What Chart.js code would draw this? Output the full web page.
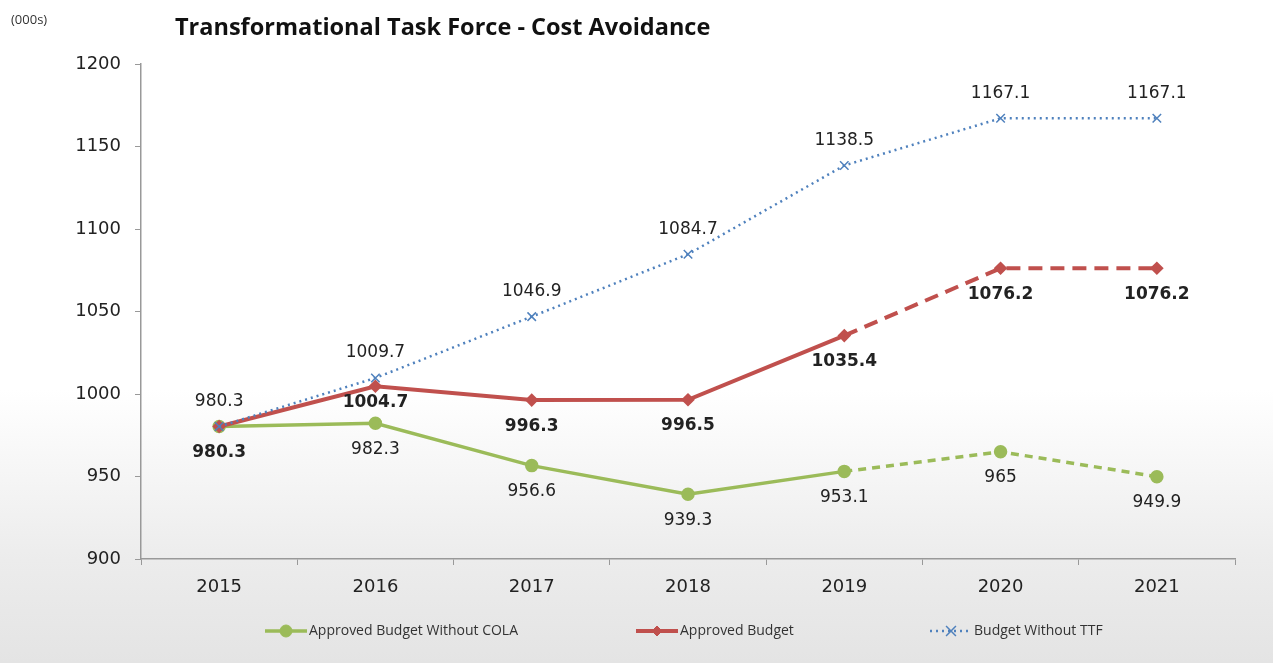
<!DOCTYPE html>
<html>
<head>
<meta charset="utf-8">
<script src="https://cdn.jsdelivr.net/npm/chart.js@4.4.1/dist/chart.umd.min.js"></script>
<style>
  html, body { margin: 0; padding: 0; }
  body {
    width: 1273px; height: 663px; overflow: hidden;
    background: linear-gradient(to bottom, #ffffff 0px, #ffffff 390px, #ececec 560px, #e4e4e4 663px);
  }
  #wrap { position: relative; width: 1273px; height: 663px; }
</style>
</head>
<body>
<div id="wrap"><canvas id="lineChart"></canvas></div>
<script>
// years and series values (thousands)
const years = ['2015', '2016', '2017', '2018', '2019', '2020', '2021'];
const withoutCola = [980.3, 982.3, 956.6, 939.3, 953.1, 965, 949.9];
const approved = [980.3, 1004.7, 996.3, 996.5, 1035.4, 1076.2, 1076.2];
const withoutTtf = [980.3, 1009.7, 1046.9, 1084.7, 1138.5, 1167.1, 1167.1];
const yTicks = [900, 950, 1000, 1050, 1100, 1150, 1200];

const GREEN = '#9bbb59';
const RED = '#c0504d';
const BLUE = '#4f81bd';
const LABEL_FONT = '17px "DejaVu Sans"';

// projected years (2019 onwards) are drawn dashed
const dashAfter = (idx, dash) => ctx => ctx.p0DataIndex >= idx ? dash : undefined;

// value labels next to each point
const pointLabels = {
  id: 'pointLabels',
  afterDatasetsDraw(chart) {
    const c = chart.ctx;
    c.save();
    c.textAlign = 'center';
    c.textBaseline = 'middle';
    c.fillStyle = '#222';
    chart.data.datasets.forEach((ds, i) => {
      const meta = chart.getDatasetMeta(i);
      meta.data.forEach((pt, j) => {
        if (ds.labelSkip && ds.labelSkip.includes(j)) return;
        let dy = ds.labelPos === 'above' ? -25 : 26;
        if (i === 1 && j === 1) dy = 16;
        c.font = ds.labelBold ? 'bold ' + LABEL_FONT : LABEL_FONT;
        c.fillText(String(ds.data[j]), pt.x, pt.y + dy);
      });
    });
    c.restore();
  }
};

// title, unit note and legend drawn on top
const extras = {
  id: 'extras',
  afterDraw(chart) {
    const c = chart.ctx;
    c.save();
    c.fillStyle = '#333';
    c.font = '13px "Open Sans"';
    c.textBaseline = 'middle';
    c.textAlign = 'left';
    c.fillText('(000s)', 11, 20);
    c.fillStyle = '#111';
    c.font = 'bold 23.5px "Open Sans"';
    c.fillText('Transformational Task Force - Cost Avoidance', 175, 28);

    const items = [
      { ds: 0, x: 265 },
      { ds: 1, x: 636 },
      { ds: 2, x: 930 }
    ];
    const y = 631;
    items.forEach(it => {
      const ds = chart.data.datasets[it.ds];
      c.strokeStyle = ds.borderColor;
      c.lineWidth = ds.borderWidth;
      c.setLineDash(ds.legendDash || []);
      c.beginPath();
      c.moveTo(it.x, y);
      c.lineTo(it.x + 42, y);
      c.stroke();
      c.setLineDash([]);
      c.fillStyle = ds.pointBackgroundColor;
      c.strokeStyle = ds.pointBorderColor;
      c.lineWidth = ds.pointStyle === 'crossRot' ? 1.5 : 1;
      Chart.helpers.drawPoint(c, {
        pointStyle: ds.pointStyle,
        radius: ds.pointRadius + 1,
        borderWidth: c.lineWidth
      }, it.x + 21, y);
      c.fillStyle = '#333';
      c.font = '14px "Open Sans"';
      c.textAlign = 'left';
      c.fillText(ds.label, it.x + 44, y);
    });
    c.restore();
  }
};

const data = {
  labels: years,
  datasets: [
    {
      label: 'Approved Budget Without COLA',
      data: withoutCola,
      borderColor: GREEN,
      backgroundColor: GREEN,
      pointBackgroundColor: GREEN,
      pointBorderColor: GREEN,
      borderWidth: 3.5,
      pointStyle: 'circle',
      pointRadius: 5,
      segment: { borderDash: dashAfter(4, [8, 6]) },
      labelPos: 'below',
      labelSkip: [0],
      order: 3
    },
    {
      label: 'Approved Budget',
      data: approved,
      borderColor: RED,
      backgroundColor: RED,
      pointBackgroundColor: RED,
      pointBorderColor: RED,
      borderWidth: 4,
      pointStyle: 'rectRot',
      pointRadius: 4,
      segment: { borderDash: dashAfter(4, [14, 8]) },
      labelPos: 'below',
      labelBold: true,
      order: 2
    },
    {
      label: 'Budget Without TTF',
      data: withoutTtf,
      borderColor: BLUE,
      backgroundColor: BLUE,
      pointBackgroundColor: 'rgba(0,0,0,0)',
      pointBorderColor: BLUE,
      borderWidth: 2.5,
      borderDash: [2, 4],
      legendDash: [2, 4],
      pointStyle: 'crossRot',
      pointRadius: 6,
      pointBorderWidth: 1.5,
      labelPos: 'above',
      order: 1
    }
  ]
};

function createLineChart() {
  const ctx = document.getElementById('lineChart').getContext('2d');
  return new Chart(ctx, {
    type: 'line',
    data: data,
    options: {
      responsive: true,
      maintainAspectRatio: false,
      animation: false,
      layout: { padding: { left: 0, right: 38, top: 64, bottom: 0 } },
      plugins: {
        legend: { display: false },
        tooltip: { enabled: false }
      },
      scales: {
        x: {
          offset: true,
          grid: { offset: true, drawOnChartArea: false, tickLength: 6, color: '#999' },
          border: { color: '#999', width: 1.5 },
          ticks: { color: '#222', font: { family: 'DejaVu Sans', size: 18 }, padding: 12 },
          afterFit(scale) { scale.height = 104; }
        },
        y: {
          min: 900,
          max: 1200,
          afterBuildTicks(scale) { scale.ticks = yTicks.map(v => ({ value: v })); },
          grid: { drawOnChartArea: false, tickLength: 6, color: '#999' },
          border: { color: '#999', width: 1.5 },
          ticks: {
            color: '#222',
            font: { family: 'DejaVu Sans', size: 18 },
            padding: 14,
            callback: v => String(v)
          },
          afterFit(scale) { scale.width = 141; }
        }
      }
    },
    plugins: [pointLabels, extras]
  });
}

createLineChart();
</script>
</body>
</html>
